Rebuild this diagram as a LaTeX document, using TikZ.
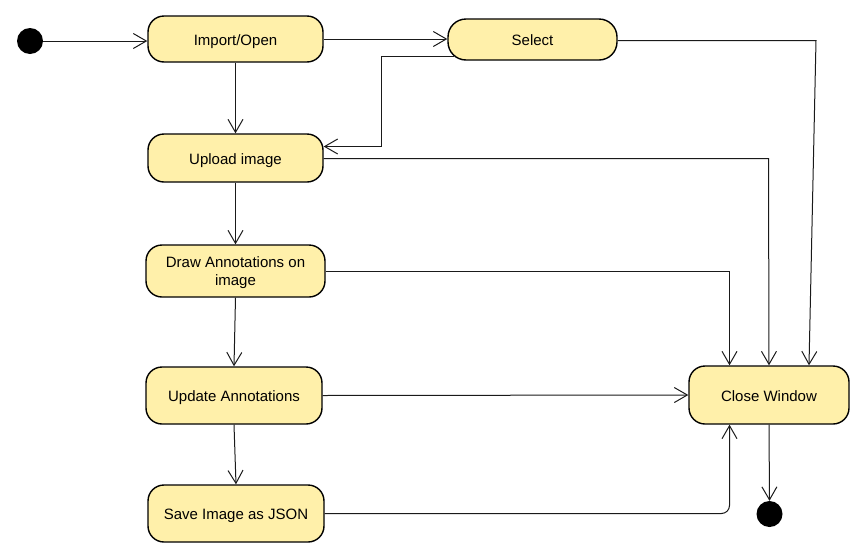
\documentclass[tikz,border=0pt]{standalone}
\usepackage{fontspec}
\setmainfont{Liberation Sans}
\usetikzlibrary{arrows.meta}
\definecolor{actfill}{HTML}{FFF0AA}
\definecolor{lncol}{HTML}{1A1A1A}
\tikzset{
  act/.style={draw=black, line width=1.4pt, fill=actfill, rounded corners=16pt,
    inner sep=0pt, font=\fontsize{15}{18}\selectfont, align=center,
    text height=14pt, text depth=2pt},
  dot/.style={circle, fill=black, draw=none, minimum size=26pt, inner sep=0pt},
  flow/.style={draw=lncol, line width=1pt, -{Straight Barb[length=13pt,width=15pt,line width=1pt]}},
}
\begin{document}
\begin{tikzpicture}[x=1pt,y=-1pt]
\useasboundingbox (0,0) rectangle (868,555);
\node[dot] (start) at (30,41) {};
\node[act, minimum width=175pt, minimum height=46pt] (imp) at (235.5,39) {Import/Open};
\node[act, minimum width=169pt, minimum height=41pt, rounded corners=18pt] (sel) at (532.5,39.5) {Select};
\node[act, minimum width=175pt, minimum height=48pt] (up) at (235.5,158) {Upload image};
\node[act, minimum width=179pt, minimum height=52pt, text height=30pt] (draw) at (235.5,271) {Draw Annotations on\\image};
\node[act, minimum width=176pt, minimum height=57pt] (upd) at (234,395.5) {Update Annotations};
\node[act, minimum width=176pt, minimum height=57pt] (save) at (236,513.5) {Save Image as JSON};
\node[act, minimum width=160pt, minimum height=58pt] (close) at (769,395) {Close Window};
\node[dot] (end) at (769.5,514) {};

\coordinate (c1) at (816,40.5);
\coordinate (s1) at (454,56.5);
\draw[flow] (start.east) -- (imp.west |- start.east);
\draw[flow] (imp.east) -- (sel.west |- imp.east);
\draw[flow] (imp.south) -- (up.north);
\draw[flow] (s1) -- (381.5,56.5) -- (381.5,146.5) -- (up.east |- 0,146.5);
\draw[flow] (sel.east |- c1) -- (c1) -- ([xshift=40pt]close.north);
\draw[flow] (up.east |- 0,158.5) -- (768.5,158.5) -- (close.north);
\draw[flow] (draw.east |- 0,271.5) -- (729.5,271.5) -- ([xshift=-39.5pt]close.north);
\draw[flow] (upd.east) -- (close.west);
\draw[flow, rounded corners=8pt] (save.east) -- (729.5,513.5) -- ([xshift=-39.5pt]close.south);
\draw[flow] (up.south) -- (draw.north);
\draw[flow] (draw.south) -- (upd.north);
\draw[flow] (upd.south) -- (save.north);
\draw[flow] (close.south) -- (end.north);
\end{tikzpicture}
\end{document}
